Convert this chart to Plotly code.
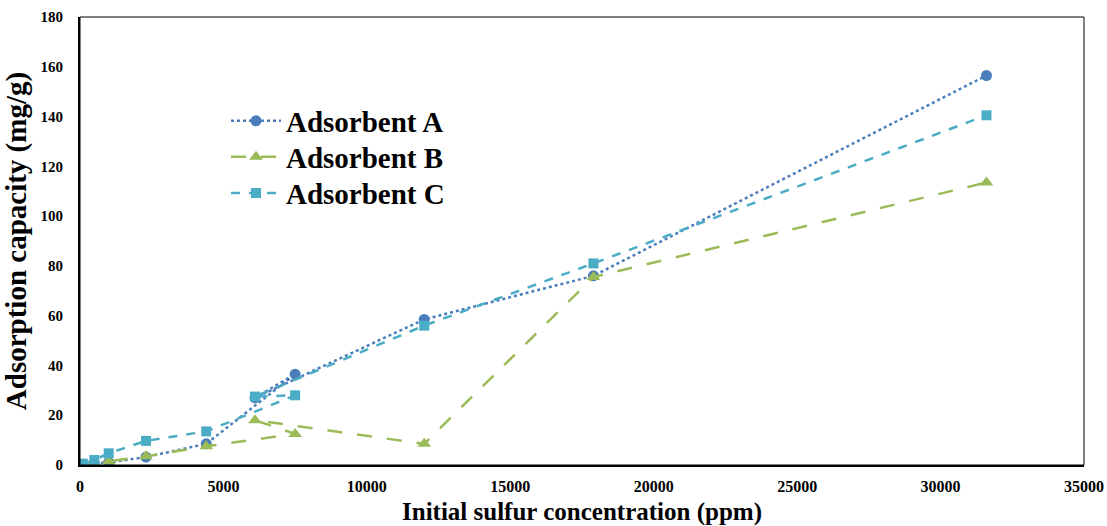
import plotly.graph_objects as go

x_ppm = [100, 500, 1000, 2300, 4400, 7500, 6100, 12000, 17900, 31600]
adsorbent_a = [0.3, 0.6, 1.0, 3.2, 8.5, 36.5, 27.0, 58.5, 76.0, 156.5]
adsorbent_b = [0.3, 0.8, 1.5, 3.5, 7.5, 12.5, 18.0, 8.5, 75.5, 113.5]
adsorbent_c = [0.5, 2.0, 4.7, 9.7, 13.5, 28.0, 27.5, 56.0, 81.0, 140.5]

x_ticks = [0, 5000, 10000, 15000, 20000, 25000, 30000, 35000]
y_ticks = [0, 20, 40, 60, 80, 100, 120, 140, 160, 180]

font_family = "Liberation Serif, Times New Roman, serif"

fig = go.Figure()
fig.add_trace(go.Scatter(x=x_ppm, y=adsorbent_a, name="<b>Adsorbent A</b>", mode="lines+markers",
                         legend="legend", showlegend=True,
                         line=dict(color="#4a7ebb", width=2.5, dash="dot"),
                         marker=dict(symbol="circle", size=11, color="#4a7ebb")))
fig.add_trace(go.Scatter(x=x_ppm, y=adsorbent_b, name="<b>Adsorbent B</b>", mode="lines+markers",
                         legend="legend2", showlegend=True,
                         line=dict(color="#9bbb59", width=2.5, dash="longdash"),
                         marker=dict(symbol="triangle-up", size=12, color="#9bbb59")))
fig.add_trace(go.Scatter(x=x_ppm, y=adsorbent_c, name="<b>Adsorbent C</b>", mode="lines+markers",
                         legend="legend3", showlegend=True,
                         line=dict(color="#4bacc6", width=2.5, dash="dash"),
                         marker=dict(symbol="square", size=10, color="#4bacc6")))

legend_common = dict(x=0.1454, xanchor="left", yanchor="middle", visible=True,
                     font=dict(size=29, family=font_family, color="black"),
                     bgcolor="rgba(0,0,0,0)", itemwidth=50)

fig.update_layout(
    width=1107, height=526,
    margin=dict(l=80, r=23, t=17, b=61),
    plot_bgcolor="white", paper_bgcolor="white",
    font=dict(family=font_family, color="black"),
    showlegend=True,
    legend=dict(y=0.768, **legend_common),
    legend2=dict(y=0.6875, **legend_common),
    legend3=dict(y=0.607, **legend_common),
    shapes=[dict(type="rect", xref="paper", yref="paper", x0=0, y0=0, x1=1, y1=1,
                 line=dict(color="black", width=1))],
)
fig.update_xaxes(range=[0, 35000], tickvals=x_ticks, ticktext=[f"<b>{v}</b>" for v in x_ticks],
                 showgrid=False, zeroline=False, showline=True, linecolor="black", linewidth=2,
                 ticks="outside", ticklen=6, tickcolor="rgba(0,0,0,0)", automargin=False,
                 tickfont=dict(size=16, family=font_family),
                 title=dict(text="<b>Initial sulfur concentration (ppm)</b>",
                            font=dict(size=25, family=font_family), standoff=12))
fig.update_yaxes(range=[0, 180], tickvals=y_ticks, ticktext=[f"<b>{v}</b>" for v in y_ticks],
                 showgrid=False, zeroline=False, showline=True, linecolor="black", linewidth=2,
                 ticks="outside", ticklen=12, tickcolor="rgba(0,0,0,0)", automargin=False,
                 tickfont=dict(size=15, family=font_family),
                 title=dict(text="<b>Adsorption capacity (mg/g)</b>",
                            font=dict(size=29, family=font_family), standoff=8))

fig.write_html("out.html")
